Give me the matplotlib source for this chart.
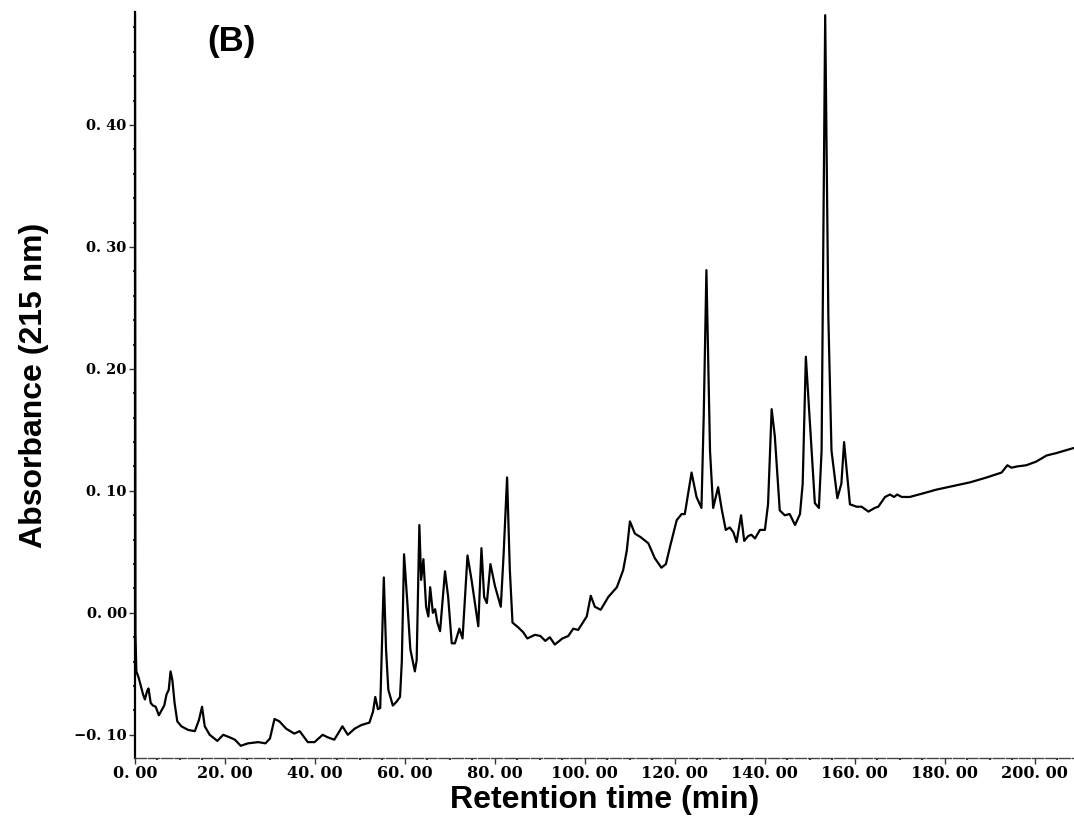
# -*- coding: utf-8 -*-

"""
HPLC chromatogram (B), absorbance at 215 nm vs retention time.
"""

# %% Imports
import matplotlib
matplotlib.use("Agg")
import matplotlib.pyplot as plt
from matplotlib.ticker import MultipleLocator, FuncFormatter

# %% Data
time_min = [0.0, 0.1, 0.3, 0.8, 1.3, 1.8, 2.2, 2.7, 3.0, 3.5, 4.0, 4.6, 5.3,
            5.9, 6.5, 7.0, 7.5, 7.9, 8.3, 8.8, 9.4, 10.3, 11.8, 13.3, 14.2,
            14.9, 15.5, 16.6, 18.3, 19.6, 21.0, 22.2, 23.5, 25.1, 27.4, 29.0,
            30.0, 31.0, 32.1, 33.6, 35.4, 36.6, 38.4, 39.9, 41.7, 42.8, 44.3,
            46.1, 47.3, 48.8, 50.3, 52.1, 52.9, 53.4, 54.0, 54.5, 55.3, 55.8,
            56.3, 57.3, 58.1, 58.9, 59.3, 59.8, 60.5, 61.2, 62.2, 62.6, 63.2,
            63.6, 64.1, 64.7, 65.2, 65.6, 66.2, 66.7, 67.2, 67.8, 68.9, 69.6,
            70.4, 71.1, 72.1, 72.8, 73.9, 74.8, 76.3, 77.0, 77.6, 78.2, 79.0,
            80.0, 81.3, 81.9, 82.7, 83.3, 83.9, 85.2, 86.3, 87.2, 88.9, 90.1,
            91.2, 92.2, 93.3, 95.0, 96.3, 97.4, 98.5, 100.4, 101.3, 102.2,
            103.5, 105.2, 107.1, 108.5, 109.3, 110.0, 111.1, 112.4, 114.1,
            115.5, 117.0, 118.0, 118.9, 120.4, 121.5, 122.2, 122.9, 123.7,
            124.8, 125.9, 126.4, 127.0, 127.8, 128.5, 129.6, 130.4, 131.3,
            132.2, 133.0, 133.7, 134.7, 135.4, 136.3, 137.0, 137.8, 138.9,
            140.0, 140.7, 141.5, 142.2, 143.3, 144.4, 145.5, 146.7, 147.8,
            148.4, 149.1, 150.0, 151.1, 152.0, 152.6, 153.4, 154.1, 154.8,
            156.1, 157.0, 157.6, 158.1, 158.9, 160.4, 161.5, 163.0, 164.4,
            165.2, 166.7, 167.8, 168.7, 169.4, 170.4, 172.2, 175.2, 178.1,
            181.8, 185.6, 189.3, 192.6, 193.9, 194.8, 196.0, 198.1, 200.3,
            202.6, 204.8, 208.5]

absorbance = [0.49, -0.017, -0.048, -0.053, -0.060, -0.067, -0.071, -0.064,
              -0.062, -0.074, -0.076, -0.077, -0.084, -0.080, -0.076, -0.067,
              -0.063, -0.048, -0.055, -0.074, -0.089, -0.093, -0.096, -0.097,
              -0.088, -0.077, -0.093, -0.100, -0.105, -0.100, -0.102, -0.104,
              -0.109, -0.107, -0.106, -0.107, -0.103, -0.087, -0.089, -0.095,
              -0.099, -0.097, -0.106, -0.106, -0.100, -0.102, -0.104, -0.093,
              -0.100, -0.095, -0.092, -0.090, -0.081, -0.069, -0.079, -0.078,
              0.029, -0.030, -0.063, -0.076, -0.073, -0.069, -0.040, 0.048,
              0.010, -0.030, -0.048, -0.039, 0.072, 0.027, 0.044, 0.005,
              -0.003, 0.021, 0.000, 0.003, -0.008, -0.015, 0.034, 0.013,
              -0.025, -0.025, -0.013, -0.021, 0.047, 0.027, -0.011, 0.053,
              0.013, 0.008, 0.040, 0.022, 0.005, 0.046, 0.111, 0.036, -0.008,
              -0.012, -0.016, -0.021, -0.018, -0.019, -0.023, -0.020, -0.026,
              -0.021, -0.019, -0.013, -0.014, -0.003, 0.014, 0.005, 0.0025,
              0.013, 0.021, 0.035, 0.051, 0.075, 0.065, 0.062, 0.057, 0.045,
              0.037, 0.040, 0.054, 0.076, 0.081, 0.081, 0.097, 0.115, 0.095,
              0.086, 0.161, 0.281, 0.133, 0.086, 0.103, 0.085, 0.068, 0.070,
              0.066, 0.058, 0.080, 0.059, 0.063, 0.064, 0.061, 0.068, 0.068,
              0.089, 0.167, 0.145, 0.084, 0.080, 0.081, 0.072, 0.081, 0.106,
              0.210, 0.156, 0.090, 0.086, 0.133, 0.49, 0.243, 0.133, 0.094,
              0.106, 0.140, 0.120, 0.089, 0.087, 0.087, 0.083, 0.086, 0.087,
              0.095, 0.097, 0.095, 0.097, 0.095, 0.095, 0.098, 0.101, 0.104,
              0.107, 0.111, 0.115, 0.121, 0.119, 0.120, 0.121, 0.124, 0.129,
              0.131, 0.135]

panel_label = "(B)"
x_label = "Retention time (min)"
y_label = "Absorbance (215 nm)"


# %% Helpers
def jp_fmt(v, pos):
    # "0. 40" style labels like the instrument printout
    s = f"{abs(v):.2f}".replace(".", ". ")
    return ("\u2212" + s) if v < -1e-9 else s


# %% Plot
fig = plt.figure(figsize=(10.74, 8.23), dpi=100)
ax = fig.add_axes([0.1257, 0.0790, 0.8743, 0.9064])

ax.plot(time_min, absorbance, color="black", lw=1.6, clip_on=True)

ax.set_xlim(0, 208.7)
ax.set_ylim(-0.119, 0.4926)

ax.spines["top"].set_visible(False)
ax.spines["right"].set_visible(False)
ax.spines["left"].set_linewidth(1.6)
ax.spines["bottom"].set_linewidth(1.0)
ax.spines["bottom"].set_color("#444444")
ax.spines["bottom"].set_linestyle((0, (8, 1.5)))

ax.xaxis.set_major_locator(MultipleLocator(20))
ax.xaxis.set_minor_locator(MultipleLocator(5))
ax.yaxis.set_major_locator(MultipleLocator(0.10))
ax.yaxis.set_minor_locator(MultipleLocator(0.02))
ax.xaxis.set_major_formatter(FuncFormatter(jp_fmt))
ax.yaxis.set_major_formatter(FuncFormatter(jp_fmt))

ax.tick_params(axis="both", which="major", direction="out", length=4,
               width=1.0, color="#333333")
ax.tick_params(axis="both", which="minor", direction="out", length=1.5,
               width=1.5, color="#333333")
ax.tick_params(axis="x", which="major", pad=1)
ax.tick_params(axis="y", which="major", pad=2)

for lab in ax.get_yticklabels():
    lab.set_fontfamily("DejaVu Serif")
    lab.set_fontweight("bold")
    lab.set_fontsize(10.5)
for lab in ax.get_xticklabels():
    lab.set_fontfamily("DejaVu Serif")
    lab.set_fontweight("bold")
    lab.set_fontsize(11.5)

ax.set_xlabel(x_label, fontsize=23, fontweight="bold",
              family="Liberation Sans", labelpad=2)
ax.set_ylabel(y_label, fontsize=23, fontweight="bold",
              family="Liberation Sans", labelpad=18)

ax.text(0.103, 0.961, panel_label, transform=ax.transAxes, fontsize=25,
        fontweight="bold", family="Liberation Sans", ha="center", va="center")

fig.savefig("out.png", dpi=100, facecolor="white")
